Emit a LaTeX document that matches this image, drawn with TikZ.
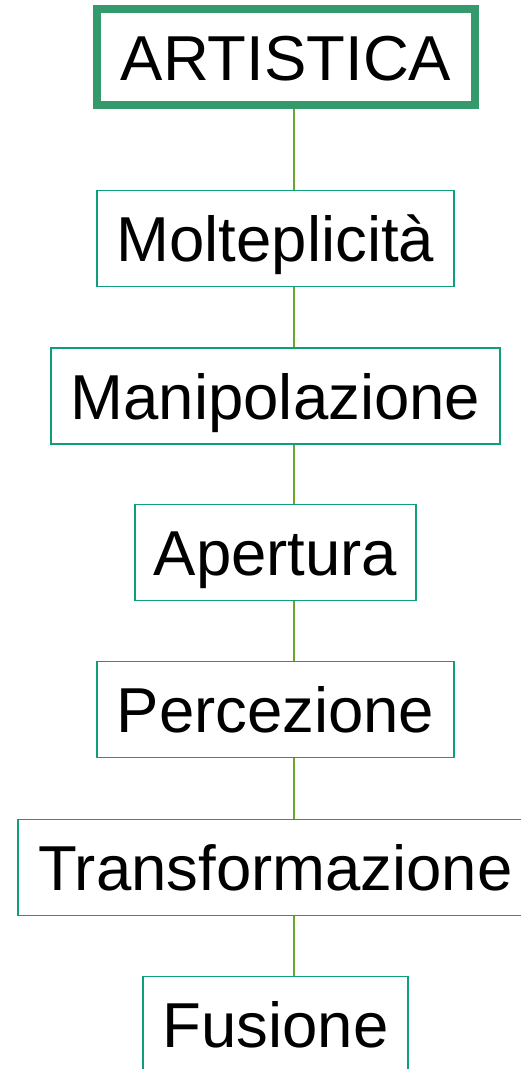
\documentclass[tikz,border=0pt]{standalone}
\usepackage{fontspec}
\setmainfont{Liberation Sans}
\usepackage[HTML]{xcolor}
\usepackage{tikz}
\usetikzlibrary{positioning}

\definecolor{boxgreen}{HTML}{0E9E78}
\definecolor{topgreen}{HTML}{349A6C}
\definecolor{linkgreen}{HTML}{6AA52C}

\tikzset{
  level/.style={draw=boxgreen, line width=1.8pt, fill=white,
    minimum height=96pt, inner sep=0pt, text height=46pt, text depth=0pt,
    font=\fontsize{63.5}{68}\selectfont},
  toplevel/.style={level, draw=topgreen, line width=7.5pt},
  link/.style={draw=linkgreen, line width=1.3pt}
}

\begin{document}
\begin{tikzpicture}[x=1pt, y=-1pt]
\useasboundingbox (0,0) rectangle (521,1069);
% spine of the connectors
\coordinate (S) at (294,0);
% top cell
\node[toplevel, minimum width=378pt] (A) at (286,57) {ARTISTICA};
% levels
\node[level, minimum width=357pt] (L1) at (275.5,238.5) {Molteplicità};
\node[level, minimum width=449pt] (L2) at (275.5,396) {Manipolazione};
\node[level, minimum width=281pt] (L3) at (275.5,552.5) {Apertura};
\node[level, minimum width=357pt] (L4) at (275.5,709.5) {Percezione};
\node[level, minimum width=515pt] (L5) at (275.5,867.5) {Transformazione};
\node[level, minimum width=265pt] (L6) at (275.5,1024.5) {Fusione};

% relations
\draw[link] (A.south -| S)--(L1.north -| S);
\draw[link] (L1.south -| S)--(L2.north -| S);
\draw[link] (L2.south -| S)--(L3.north -| S);
\draw[link] (L3.south -| S)--(L4.north -| S);
\draw[link] (L4.south -| S)--(L5.north -| S);
\draw[link] (L5.south -| S)--(L6.north -| S);
\end{tikzpicture}
\end{document}
